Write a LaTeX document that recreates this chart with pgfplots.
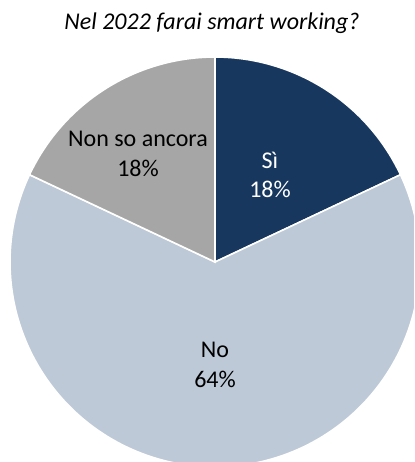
\documentclass[border=0pt]{standalone}
\usepackage{pgfplots}
\pgfplotsset{compat=1.18}
\usepackage{fontspec}
\setmainfont{Carlito}
\definecolor{cSi}{HTML}{17375E}
\definecolor{cNo}{HTML}{BDC9D7}
\definecolor{cNs}{HTML}{A6A6A6}
% data (percent)
\def\vSi{18}
\def\vNo{64}
\def\vNs{18}
\begin{document}
\begin{tikzpicture}
\begin{axis}[
  scale only axis, width=207pt, height=231pt,
  xmin=0, xmax=414, ymin=0, ymax=462,
  hide axis, clip=true,
]
\pgfmathsetmacro{\aA}{90}
\pgfmathsetmacro{\aB}{90-3.6*\vSi}
\pgfmathsetmacro{\aC}{\aB-3.6*\vNo}
\pgfmathsetmacro{\aD}{\aC-3.6*\vNs}
\addplot[fill=cSi, draw=white, line width=0.8pt, domain=\aB:\aA, samples=60, variable=\t]
  ({215+205*cos(\t)},{200+205*sin(\t)}) -- (axis cs:215,200) -- cycle;
\addplot[fill=cNo, draw=white, line width=0.8pt, domain=\aC:\aB, samples=150, variable=\t]
  ({215+205*cos(\t)},{200+205*sin(\t)}) -- (axis cs:215,200) -- cycle;
\addplot[fill=cNs, draw=white, line width=0.8pt, domain=\aD:\aC, samples=60, variable=\t]
  ({215+205*cos(\t)},{200+205*sin(\t)}) -- (axis cs:215,200) -- cycle;
\node[align=center, font=\fontsize{12}{14.8}\selectfont, text=black] at (axis cs:138,308) {Non so ancora\\\vNs\%};
\node[align=center, font=\fontsize{12}{14.8}\selectfont, text=white] at (axis cs:270,287) {Sì\\\vSi\%};
\node[align=center, font=\fontsize{12}{14.8}\selectfont, text=black] at (axis cs:215,97) {No\\\vNo\%};
\node[font=\fontsize{12}{14}\selectfont\itshape] at (axis cs:212,439) {Nel 2022 farai smart working?};
\path (rel axis cs:0,0) rectangle (rel axis cs:1,1);
\end{axis}
\end{tikzpicture}
\end{document}
